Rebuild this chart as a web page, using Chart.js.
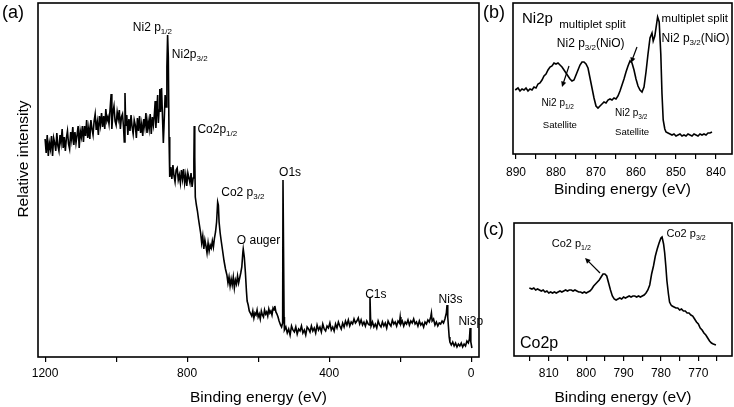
<!DOCTYPE html>
<html>
<head>
<meta charset="utf-8">
<script src="https://cdn.jsdelivr.net/npm/chart.js@4/dist/chart.umd.min.js"></script>
<style>
  body { margin: 0; background: #fff; }
  #wrap { position: relative; width: 734px; height: 407px; overflow: hidden; background: #fff; }
  canvas { position: absolute; }
</style>
</head>
<body>
<div id="wrap">
  <canvas id="survey" width="490" height="407" style="left:0;top:0"></canvas>
  <canvas id="nickel" width="254" height="199" style="left:480px;top:0"></canvas>
  <canvas id="cobalt" width="254" height="202" style="left:480px;top:205px"></canvas>
</div>
<script>
// (a) survey spectrum: [binding energy eV, relative intensity]
const surveyPoints = [
  [1200,218],[1197,204],[1194,222],[1191,201],[1188,214],[1185,208],[1182,221],[1179,201],[1176,219],[1173,214],
  [1170,206],[1167,224],[1164,211],[1161,206],[1158,222],[1155,214],[1152,228],[1149,209],[1146,220],[1143,206],
  [1140,219],[1137,226],[1134,213],[1131,208],[1128,225],[1125,217],[1122,230],[1119,212],[1116,225],[1113,214],
  [1110,222],[1107,231],[1104,209],[1101,226],[1098,220],[1095,231],[1092,215],[1089,231],[1086,221],[1083,237],
  [1080,219],[1077,229],[1074,218],[1071,237],[1068,228],[1065,222],[1062,236],[1059,243],[1056,227],[1053,235],
  [1050,222],[1047,241],[1044,232],[1041,244],[1038,230],[1035,241],[1032,228],[1029,248],[1026,236],[1023,240],
  [1020,233],[1017,248],[1014,263],[1012,228],[1009,245],[1006,251],[1003,236],[1000,232],[997,245],[994,238],
  [991,247],[988,228],[985,240],[982,243],[979,229],[977,215],[975,264],[973,231],[970,242],[967,222],
  [964,238],[961,226],[958,242],[955,230],[952,223],[949,237],[946,232],[943,219],[940,239],[937,226],
  [934,241],[931,224],[928,233],[925,221],[922,238],[919,230],[916,244],[913,224],[910,236],[907,228],
  [904,243],[901,223],[898,240],[895,232],[892,244],[890,256],[888,229],[886,242],[883,262],[881,234],
  [879,247],[877,268],[875,245],[872,269],[869,236],[867,214],[865,232],[862,262],[859,250],[857,290],
  [855,322],[853,300],[851,220],[849,180],[846,190],[843,178],[840,192],[837,181],[834,175],[831,187],
  [828,189],[825,177],[822,182],[819,174],[816,187],[813,178],[810,188],[807,174],[804,182],[801,171],
  [798,184],[795,179],[792,174],[789,184],[786,170],[783,179],[781,196],[780,231],[778.5,200],[777,160],
  [774,152],[771,146],[768,138],[765,131],[762,124],[759,114],[756,121],[753,108],[750,117],[747,111],
  [744,104],[741,114],[738,106],[735,112],[732,109],[729,116],[726,110],[723,119],[720,125],[717,135],
  [714,155],[712,152],[710,135],[707,124],[704,116],[700,106],[696,96],[692,88],[688,82],[685,74],
  [682,80],[679,71],[676,78],[673,72],[670,80],[667,69],[664,77],[661,73],[658,81],[655,74],
  [652,79],[649,84],[646,90],[643,105],[642,108],[639,100],[636,85],[633,66],[631,56],[628,52],
  [625,46],[622,44],[618,41],[615,46],[612,39],[609,44],[606,42],[603,47],[600,40],[597,43],
  [594,38],[591,46],[588,42],[585,40],[582,47],[579,43],[576,45],[573,41],[570,48],[567,44],
  [564,46],[561,42],[558,49],[555,47],[553,51],[550,45],[547,43],[544,40],[541,36],[537,32],
  [534,30],[531,34],[530,177],[529,177],[527,40],[526,27],[522,30],[518,24],[514,28],[510,22],
  [506,31],[502,27],[498,25],[494,30],[490,23],[486,28],[482,26],[478,31],[474,24],[470,27],
  [466,22],[462,30],[458,28],[454,25],[450,31],[446,26],[442,29],[438,24],[434,32],[430,27],
  [426,30],[422,25],[418,33],[414,28],[410,26],[406,31],[402,29],[398,34],[394,27],[390,30],
  [386,26],[382,33],[378,29],[374,35],[370,31],[366,28],[362,34],[358,30],[354,36],[350,32],
  [346,37],[342,31],[338,35],[334,33],[330,38],[326,34],[322,36],[318,39],[314,33],[310,37],
  [306,32],[302,35],[298,31],[294,36],[290,33],[287,32],[285,60],[283.5,40],[282,31],[278,35],
  [274,30],[270,33],[266,29],[262,36],[258,32],[254,30],[250,35],[246,31],[242,34],[238,29],
  [234,36],[230,33],[226,31],[222,37],[218,33],[214,35],[210,31],[206,36],[202,34],[200,40],
  [198,33],[194,36],[190,31],[186,35],[182,33],[178,37],[174,32],[170,36],[166,34],[162,38],
  [158,33],[154,35],[150,31],[146,36],[142,32],[138,34],[134,30],[130,35],[126,33],[122,37],
  [118,35],[114,40],[112,44],[110,36],[106,38],[102,32],[98,35],[94,31],[90,34],[86,33],
  [82,36],[78,34],[74,38],[70,44],[68,52],[66,40],[64,30],[62,20],[60,15],[56,12],
  [52,15],[48,11],[44,14],[40,10],[36,13],[32,11],[28,14],[24,10],[20,13],[16,11],
  [12,16],[8,14],[5,18],[3,29],[1,15],[-2,9]
];
const surveyTicks = [1200, 1000, 800, 600, 400, 200, 0];
const surveyTickLabels = [1200, 800, 400, 0];

// (b) Ni2p region
const nickelPoints = [
  [890.2,64],[889.5,66],[889,63],[888.5,65],[888,64],[887.5,66],[887,63],[886.5,65],[886,64],[885.5,67],
  [885,66],[884.5,70],[884,71],[883.5,74],[883,78],[882.5,80],[882,84],[881.5,87],[881,88],[880.5,91],
  [880,90],[879.5,91],[879,89],[878.5,87],[878,84],[877.5,81],[877,78],[876.5,75],[876,73],[875.5,74],
  [875,79],[874.5,84],[874,89],[873.5,92],[873,92],[872.5,90],[872,86],[871.5,76],[871,66],[870.5,56],
  [870,48],[869.5,46],[869,48],[868.5,50],[868,52],[867.5,51],[867,54],[866.5,55],[866,54],[865.5,56],
  [865,55],[864.5,58],[864,63],[863.5,69],[863,75],[862.5,82],[862,88],[861.5,93],[861,91],[860.5,84],
  [860,75],[859.5,68],[859,64],[858.5,62],[858,67],[857.5,82],[857,100],[856.5,116],[856,121],[855.7,113],
  [855.3,118],[855,126],[854.6,137],[854.2,132],[853.8,100],[853.5,60],[853.2,34],[852.8,25],[852.5,22],[852,21],
  [851.5,20],[851,19],[850.5,20],[850,18],[849.5,19],[849,20],[848.5,18],[848,19],[847.5,18],[847,20],
  [846.5,19],[846,18],[845.5,20],[845,19],[844.5,18],[844,20],[843.5,19],[843,20],[842.5,19],[842,21],
  [841.5,21],[841,22]
];
const nickelTicks = [890, 885, 880, 875, 870, 865, 860, 855, 850, 845, 840];
const nickelTickLabels = [890, 880, 870, 860, 850, 840];

// (c) Co2p region
const cobaltPoints = [
  [815.2,68],[814.5,67],[814,68],[813.5,66],[813,67],[812,65],[811.5,66],[811,64],[810.5,65],[810,63],
  [809.5,64],[809,63],[808.5,64],[808,63],[807.5,64],[807,65],[806.5,64],[806,65],[805.5,66],[805,65],
  [804.5,66],[804,66],[803.5,65],[803,66],[802.5,65],[802,64],[801.5,64],[801,63],[800.5,64],[800,63],
  [799.5,64],[799,65],[798.5,67],[798,70],[797.5,72],[797,74],[796.5,76],[796,79],[795.5,82],[795,82],
  [794.5,80],[794,73],[793.5,66],[793,60],[792.5,57],[792,56],[791.5,57],[791,58],[790.5,57],[790,59],
  [789.5,58],[789,59],[788.5,60],[788,59],[787.5,60],[787,60],[786.5,59],[786,60],[785.5,59],[785,60],
  [784.5,61],[784,63],[783.5,66],[783,71],[782.5,82],[782,90],[781.5,100],[781,107],[780.5,113],[780,118],
  [779.7,119],[779.3,112],[779,103],[778.7,90],[778.4,75],[778,62],[777.7,54],[777.3,51],[777,50],[776.5,49],
  [776,48],[775.5,48],[775,46],[774.5,47],[774,45],[773.5,45],[773,43],[772.5,43],[772,41],[771.5,40],
  [771,37],[770.5,34],[770,32],[769.5,28],[769,26],[768.5,23],[768,21],[767.5,18],[767,15],[766.5,13],
  [766,12],[765.3,11]
];
const cobaltTicks = [815, 810, 805, 800, 795, 790, 785, 780, 775, 770, 765];
const cobaltTickLabels = [810, 800, 790, 780, 770];

const FONT = "'Liberation Sans', Arial, sans-serif";

function drawRich(ctx, px, py, l) {
  const size = l.size || 12;
  const subSize = l.subSize || Math.round(size * 0.66);
  ctx.textAlign = 'left';
  ctx.textBaseline = 'alphabetic';
  let cx = px;
  ctx.font = size + 'px ' + FONT;
  ctx.fillText(l.text, cx, py);
  cx += ctx.measureText(l.text).width;
  if (l.sub) {
    ctx.font = subSize + 'px ' + FONT;
    ctx.fillText(l.sub, cx, py + size * 0.25);
    cx += ctx.measureText(l.sub).width;
  }
  if (l.after) {
    ctx.font = size + 'px ' + FONT;
    ctx.fillText(l.after, cx, py);
  }
}

function drawArrow(ctx, x1, y1, x2, y2) {
  const ang = Math.atan2(y2 - y1, x2 - x1);
  const head = 6;
  ctx.lineWidth = 1.2;
  ctx.beginPath();
  ctx.moveTo(x1, y1);
  ctx.lineTo(x2 - Math.cos(ang) * head * 0.8, y2 - Math.sin(ang) * head * 0.8);
  ctx.stroke();
  ctx.beginPath();
  ctx.moveTo(x2, y2);
  ctx.lineTo(x2 - head * Math.cos(ang - 0.45), y2 - head * Math.sin(ang - 0.45));
  ctx.lineTo(x2 - head * Math.cos(ang + 0.45), y2 - head * Math.sin(ang + 0.45));
  ctx.closePath();
  ctx.fill();
}

// frame, annotations, arrows, panel letter
const notesPlugin = {
  id: 'notes',
  afterDraw(chart, args, opts) {
    const { ctx, chartArea: a } = chart;
    const x = chart.scales.x, y = chart.scales.y;
    ctx.save();
    ctx.strokeStyle = '#000';
    ctx.fillStyle = '#000';
    ctx.lineWidth = 1.6;
    ctx.strokeRect(a.left, a.top, a.right - a.left, a.bottom - a.top);
    (opts.labels || []).forEach(l => {
      drawRich(ctx, x.getPixelForValue(l.x), y.getPixelForValue(l.y), l);
    });
    (opts.arrows || []).forEach(ar => {
      drawArrow(ctx, x.getPixelForValue(ar.from[0]), y.getPixelForValue(ar.from[1]),
        x.getPixelForValue(ar.to[0]), y.getPixelForValue(ar.to[1]));
    });
    if (opts.letter) {
      ctx.font = '18px ' + FONT;
      ctx.textAlign = 'left';
      ctx.textBaseline = 'alphabetic';
      ctx.fillText(opts.letter.text, opts.letter.x, opts.letter.y);
    }
    if (opts.yTitle) {
      ctx.translate(opts.yTitle.x, opts.yTitle.y);
      ctx.rotate(-Math.PI / 2);
      ctx.font = '15.5px ' + FONT;
      ctx.textAlign = 'center';
      ctx.textBaseline = 'middle';
      ctx.fillText(opts.yTitle.text, 0, 0);
    }
    ctx.restore();
  }
};

function makeChart(id, points, xr, yMax, ticks, tickLabels, pad, axisH, tickPad, lineW, notes) {
  return new Chart(document.getElementById(id), {
    type: 'line',
    data: {
      datasets: [{
        data: points.map(p => ({ x: p[0], y: p[1] })),
        borderColor: '#000',
        borderWidth: lineW,
        pointRadius: 0,
        tension: 0,
        fill: false
      }]
    },
    options: {
      responsive: false,
      animation: false,
      devicePixelRatio: 1,
      layout: { padding: pad },
      plugins: { legend: { display: false }, tooltip: { enabled: false }, notes: notes },
      scales: {
        x: {
          type: 'linear',
          reverse: true,
          min: xr[0],
          max: xr[1],
          afterBuildTicks: s => { s.ticks = ticks.map(v => ({ value: v })); },
          afterFit: s => { s.height = axisH; },
          ticks: {
            autoSkip: false,
            maxRotation: 0,
            padding: tickPad,
            color: '#000',
            font: { size: 12, family: FONT },
            callback: v => tickLabels.includes(v) ? String(v) : ''
          },
          grid: { drawOnChartArea: false, drawTicks: true, tickLength: 5, color: '#000', lineWidth: 1.2 },
          border: { display: false },
          title: { display: true, text: 'Binding energy (eV)', color: '#000', padding: 0,
                   font: { size: 15.5, family: FONT } }
        },
        y: { display: false, min: 0, max: yMax }
      }
    },
    plugins: [notesPlugin]
  });
}

makeChart('survey', surveyPoints, [-22, 1220], 354, surveyTicks, surveyTickLabels,
  { left: 38, top: 3, right: 11, bottom: 0 }, 50, 4, 1.6, {
    letter: { text: '(a)', x: 2, y: 17.5 },
    yTitle: { text: 'Relative intensity', x: 24, y: 159 },
    labels: [
      { x: 953, y: 325.7, text: 'Ni2 p', sub: '1/2' },
      { x: 843, y: 299, text: 'Ni2p', sub: '3/2' },
      { x: 771, y: 224.4, text: 'Co2p', sub: '1/2' },
      { x: 704, y: 161, text: 'Co2 p', sub: '3/2' },
      { x: 660, y: 112.7, text: 'O auger' },
      { x: 541, y: 180.7, text: 'O1s' },
      { x: 298.6, y: 59.4, text: 'C1s' },
      { x: 92, y: 54.4, text: 'Ni3s' },
      { x: 36, y: 32.4, text: 'Ni3p' }
    ]
  });

makeChart('nickel', nickelPoints, [836, 890.75], 151, nickelTicks, nickelTickLabels,
  { left: 33, top: 3, right: 2, bottom: 0 }, 45, 6, 1.6, {
    letter: { text: '(b)', x: 3, y: 17.9 },
    labels: [
      { x: 888.5, y: 131.3, text: 'Ni2p', size: 15 },
      { x: 879.2, y: 126.5, text: 'multiplet split', size: 11.5 },
      { x: 879.8, y: 107.4, text: 'Ni2 p', sub: '3/2', after: '(NiO)', size: 12, subSize: 8 },
      { x: 883.6, y: 47.8, text: 'Ni2 p', sub: '1/2', size: 10, subSize: 6.5 },
      { x: 883.3, y: 26.1, text: 'Satellite', size: 9.6 },
      { x: 865.25, y: 37.8, text: 'Ni2 p', sub: '3/2', size: 10, subSize: 6.5 },
      { x: 865.25, y: 19.5, text: 'Satellite', size: 9.6 },
      { x: 853.6, y: 131.8, text: 'multiplet split', size: 11.5 },
      { x: 853.6, y: 112.4, text: 'Ni2 p', sub: '3/2', after: '(NiO)', size: 12, subSize: 8 }
    ],
    arrows: [
      { from: [876.75, 88], to: [878.5, 67] },
      { from: [859.75, 107], to: [861.25, 91] }
    ]
  });

makeChart('cobalt', cobaltPoints, [761, 819.3], 133, cobaltTicks, cobaltTickLabels,
  { left: 34, top: 18, right: 2, bottom: 0 }, 51, 5, 1.6, {
    letter: { text: '(c)', x: 3, y: 29.5 },
    labels: [
      { x: 809.2, y: 109.1, text: 'Co2 p', sub: '1/2', size: 11, subSize: 7 },
      { x: 778.5, y: 119.1, text: 'Co2 p', sub: '3/2', size: 11, subSize: 7 },
      { x: 817.7, y: 8.5, text: 'Co2p', size: 16 }
    ],
    arrows: [
      { from: [796.3, 83], to: [800.3, 98] }
    ]
  });
</script>
</body>
</html>
